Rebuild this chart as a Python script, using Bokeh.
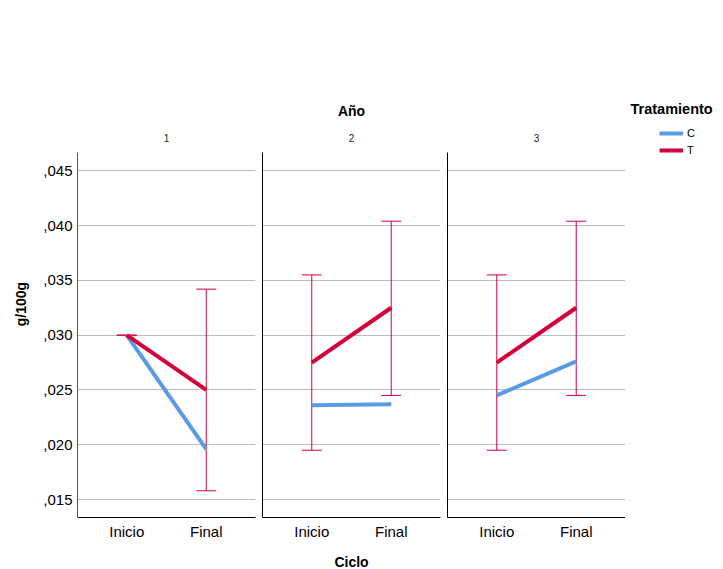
from bokeh.plotting import figure
from bokeh.layouts import row
from bokeh.models import (ColumnDataSource, Whisker, TeeHead, Range1d, FixedTicker,
                          Legend, LegendItem, Label)
from bokeh.embed import file_html
from bokeh.resources import INLINE

# ---- data ----
years = ["1", "2", "3"]
cycles = ["Inicio", "Final"]
c_means = [[0.0300, 0.0196], [0.0236, 0.0237], [0.0245, 0.0276]]
t_means = [[0.0300, 0.0250], [0.0275, 0.0325], [0.0275, 0.0325]]
t_lower = [[0.0300, 0.0158], [0.0195, 0.0245], [0.0195, 0.0245]]
t_upper = [[0.0300, 0.0342], [0.0355, 0.0404], [0.0355, 0.0404]]
y_ticks = [0.015, 0.020, 0.025, 0.030, 0.035, 0.040, 0.045]
y_tick_labels = [",015", ",020", ",025", ",030", ",035", ",040", ",045"]
treatments = ["C", "T"]

BLUE = "#5a9be6"
RED = "#d5003a"
FONT = "Liberation Sans"
COLORS = [BLUE, RED]

# layout (pixels)
TOP = 90          # frames start here; the header rows live inside the frames
FRAME_H = 427
BOTTOM = 50
PANEL_W = 178
Y_LO, Y_AXIS_HI = 0.01336, 0.04667       # visible panel span
Y_HI = Y_LO + (Y_AXIS_HI - Y_LO) * FRAME_H / 365.0

xs = list(range(len(cycles)))
figs = []
for i, yr in enumerate(years):
    first = i == 0
    p = figure(output_backend="svg", toolbar_location=None, title=None,
               frame_width=PANEL_W, frame_height=FRAME_H,
               x_range=Range1d(-0.62, 1.62), y_range=Range1d(Y_LO, Y_HI),
               min_border_left=77 if first else 4,
               min_border_right=3 if i < 2 else 0,
               min_border_top=TOP, min_border_bottom=BOTTOM)
    p.outline_line_color = None
    p.background_fill_color = None
    p.border_fill_color = None

    # facet header "1", "2", "3" and the overall "Año"
    p.add_layout(Label(x=PANEL_W / 2, y=FRAME_H - 47, x_units="screen", y_units="screen",
                       text=yr, text_font=FONT, text_font_size="10px",
                       text_color="#222222", text_align="center",
                       text_baseline="middle"))
    if i == 1:
        p.add_layout(Label(x=PANEL_W / 2, y=FRAME_H - 20, x_units="screen",
                           y_units="screen", text="Año", text_font=FONT,
                           text_font_size="14px", text_font_style="bold",
                           text_color="black", text_align="center",
                           text_baseline="middle"))

    # axes
    p.xaxis.ticker = FixedTicker(ticks=xs)
    p.xaxis.major_label_overrides = {x: c for x, c in zip(xs, cycles)}
    p.xaxis.major_label_text_font = FONT
    p.xaxis.major_label_text_font_size = "15px"
    p.xaxis.major_label_text_color = "black"
    p.xaxis.major_tick_line_color = None
    p.xaxis.major_tick_out = 0
    p.xaxis.major_tick_in = 0
    p.xaxis.minor_tick_line_color = None
    p.xaxis.major_label_standoff = 5
    p.xaxis.axis_line_color = "black"
    p.xaxis.axis_line_width = 1
    if i == 1:
        p.xaxis.axis_label = "Ciclo"
        p.xaxis.axis_label_text_font = FONT
        p.xaxis.axis_label_text_font_size = "14px"
        p.xaxis.axis_label_text_font_style = "bold"
        p.xaxis.axis_label_text_color = "black"
        p.xaxis.axis_label_standoff = 11

    p.yaxis.bounds = (Y_LO, Y_AXIS_HI)
    p.yaxis.major_tick_line_color = None
    p.yaxis.major_tick_out = 0
    p.yaxis.major_tick_in = 0
    p.yaxis.minor_tick_line_color = None
    p.yaxis.axis_line_color = "#555555" if first else "black"
    p.yaxis.axis_line_width = 1
    if first:
        p.yaxis.ticker = FixedTicker(ticks=y_ticks)
        p.yaxis.major_label_overrides = {t: s for t, s in zip(y_ticks, y_tick_labels)}
        p.yaxis.major_label_text_font = FONT
        p.yaxis.major_label_text_font_size = "15px"
        p.yaxis.major_label_text_color = "black"
        p.yaxis.major_label_standoff = 5
        p.yaxis.axis_label = "g/100g"
        p.yaxis.axis_label_text_font = FONT
        p.yaxis.axis_label_text_font_size = "14px"
        p.yaxis.axis_label_text_font_style = "bold"
        p.yaxis.axis_label_text_color = "black"
        p.yaxis.axis_label_standoff = 11
    else:
        # inner panels: axis line only, no tick labels
        p.yaxis.ticker = FixedTicker(ticks=[])
        p.yaxis.major_label_standoff = 0

    p.xgrid.grid_line_color = None
    p.ygrid.ticker = FixedTicker(ticks=y_ticks)
    p.ygrid.grid_line_color = "#bdbdbd"
    p.ygrid.grid_line_width = 1

    src = ColumnDataSource(dict(x=xs, c=c_means[i], t=t_means[i],
                                lo=t_lower[i], up=t_upper[i]))
    w = Whisker(source=src, base="x", lower="lo", upper="up",
                line_color=RED, line_width=1,
                upper_head=TeeHead(size=20, line_color=RED, line_width=1),
                lower_head=TeeHead(size=20, line_color=RED, line_width=1))
    p.add_layout(w)
    p.line("x", "c", source=src, line_color=BLUE, line_width=4)
    p.line("x", "t", source=src, line_color=RED, line_width=4)
    figs.append(p)

# ---- legend panel ----
LW = 94
lg = figure(output_backend="svg", toolbar_location=None, title=None,
            frame_width=LW, frame_height=FRAME_H,
            min_border_left=0, min_border_right=0,
            min_border_top=TOP, min_border_bottom=BOTTOM,
            x_range=Range1d(0, 1), y_range=Range1d(0, 1),
            x_axis_location=None, y_axis_location=None)
lg.outline_line_color = None
lg.grid.grid_line_color = None
lg.background_fill_color = None
lg.border_fill_color = None
items = []
for name, col, vals in zip(treatments, COLORS, [c_means[2], t_means[2]]):
    r = lg.line(xs, vals, line_color=col, line_width=4, visible=False)
    items.append(LegendItem(label=name, renderers=[r]))
# tuple location = bottom-left corner of the legend box, from the frame's bottom-left
legend = Legend(items=items, location=(34, FRAME_H - 67), orientation="vertical",
                background_fill_alpha=0, border_line_color=None,
                padding=0, margin=0, spacing=3,
                glyph_width=24, glyph_height=14, label_height=14,
                label_standoff=4, label_text_font=FONT,
                label_text_font_size="11px", label_text_color="black")
lg.add_layout(legend)
lg.add_layout(Label(x=5, y=FRAME_H - 18, x_units="screen", y_units="screen",
                    text="Tratamiento", text_font=FONT, text_font_size="14.5px",
                    text_font_style="bold", text_color="black",
                    text_baseline="middle"))
figs.append(lg)

layout = row(*figs, spacing=0)
open("out.html", "w").write(file_html(layout, INLINE))
